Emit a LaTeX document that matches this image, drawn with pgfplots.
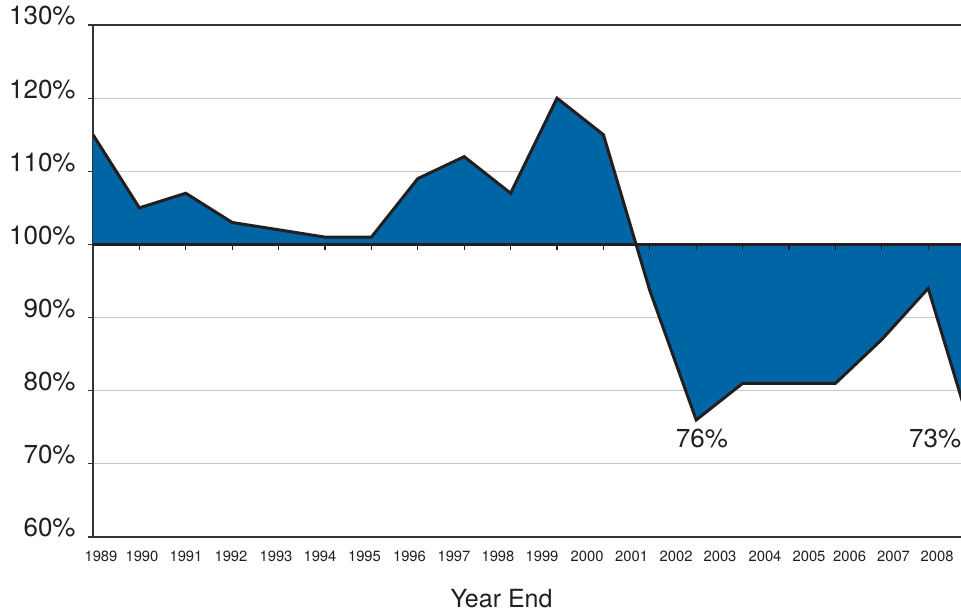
\documentclass[border=0pt]{standalone}
\usepackage{pgfplots}
\pgfplotsset{compat=1.18}
\usepgfplotslibrary{fillbetween}
\usepackage{fontspec}
\setmainfont{TeX Gyre Heros}
\definecolor{areablue}{RGB}{0,101,164}
\definecolor{inkdark}{RGB}{35,31,32}
\definecolor{axgray}{RGB}{51,51,51}
\definecolor{gridgray}{RGB}{200,200,200}
\begin{document}
\begin{tikzpicture}
\begin{axis}[
  name=ax,
  scale only axis,
  width=448.5pt, height=256pt,
  xmin=0, xmax=19.332,
  ymin=60, ymax=130,
  axis line style={color=axgray, line width=0.9pt},
  ytick={60,70,80,90,100,110,120,130},
  yticklabels={60\%,70\%,80\%,90\%,100\%,110\%,120\%,130\%},
  ytick pos=left,
  tick align=outside,
  major tick length=2.7pt,
  ytick style={color=axgray, line width=0.6pt},
  yticklabel style={anchor=base east, inner sep=0pt, xshift=-5.8pt, font=\fontsize{13}{15}\selectfont, text=inkdark},
  ymajorgrids,
  grid style={color=gridgray, line width=0.6pt},
  xtick={0.172,1.056,2.004,2.974,3.944,4.892,5.851,6.821,7.780,8.728,9.677,10.647,11.606,12.565,13.513,14.483,15.431,16.306,17.252,18.190},
  xticklabels={1989,1990,1991,1992,1993,1994,1995,1996,1997,1998,1999,2000,2001,2002,2003,2004,2005,2006,2007,2008},
  xtick style={draw=none},
  xticklabel style={anchor=north, yshift=-1pt, font=\fontsize{7.4}{9}\selectfont, text=inkdark},
  xlabel={Year End},
  xlabel style={at={(axis description cs:0.4554,0)}, anchor=base, yshift=-35.5pt, font=\fontsize{12.5}{15}\selectfont, text=inkdark},
]
\addplot[name path=base, draw=none, forget plot] coordinates {(0,100) (19.332,100)};
\addplot[name path=ratio, draw=none, forget plot] coordinates {
(0,115) (1,105) (2,107) (3,103) (4,102) (5,101) (6,101) (7,109) (8,112) (9,107)
(10,120) (11,115) (12,93.7) (13,76) (14,81) (15,81) (16,81) (17,87) (18,94) (19,73)};
\addplot[fill=areablue, draw=none] fill between[of=ratio and base];
\addplot[color=inkdark, line width=1.5pt, line join=miter] coordinates {
(0,115) (1,105) (2,107) (3,103) (4,102) (5,101) (6,101) (7,109) (8,112) (9,107)
(10,120) (11,115) (12,93.7) (13,76) (14,81) (15,81) (16,81) (17,87) (18,94) (19,73)};
\addplot[color=inkdark, line width=1.6pt] coordinates {(0,100) (19.332,100)};
\pgfplotsinvokeforeach{1,...,19}{
  \draw[color=inkdark, line width=0.6pt] (axis cs:#1,100) -- ([yshift=-3pt]axis cs:#1,100);
}
\node[font=\fontsize{13}{15}\selectfont, text=inkdark] at (axis cs:13.125,73.5) {76\%};
\node[font=\fontsize{13}{15}\selectfont, text=inkdark] at (axis cs:18.15,73.5) {73\%};
\end{axis}
\pgfresetboundingbox
\path ([shift={(-46.5pt,-38pt)}]ax.south west) rectangle ([shift={(434pt,12.5pt)}]ax.north west);
\end{tikzpicture}
\end{document}
